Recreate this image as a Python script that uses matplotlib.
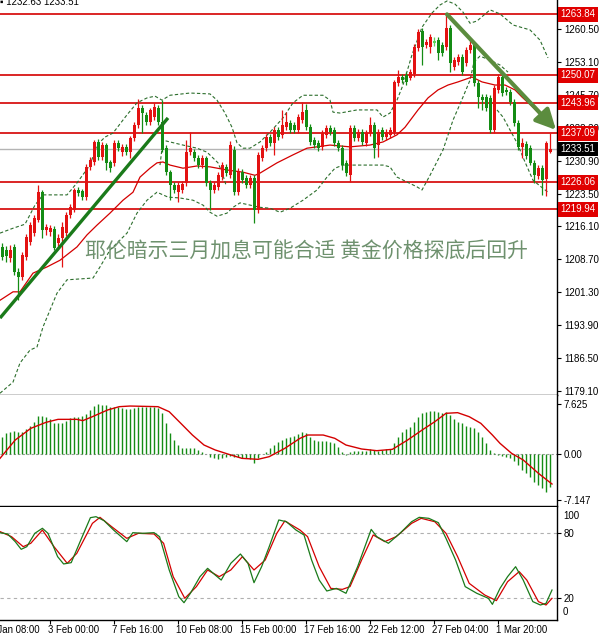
import matplotlib
matplotlib.use('Agg')
import matplotlib.pyplot as plt
import matplotlib.transforms as mtransforms

plt.rcParams['font.family'] = ['Liberation Sans', 'DejaVu Sans']

# ---------------- data (GOLD H4) ----------------
opens = [1211.5, 1210.8, 1209.0, 1211.5, 1205.9, 1204.7, 1209.2, 1212.6, 1214.6, 1217.5,
         1223.8, 1215.3, 1214.8, 1215.5, 1212.4, 1213.5, 1214.6, 1218.7, 1219.8, 1224.3,
         1224.1, 1222.7, 1229.5, 1230.6, 1235.1, 1231.7, 1234.4, 1230.6, 1230.4, 1234.9,
         1232.8, 1234.0, 1232.8, 1236.0, 1238.9, 1242.7, 1241.2, 1239.6, 1240.7, 1242.7,
         1239.6, 1233.7, 1228.3, 1225.4, 1223.8, 1224.3, 1225.9, 1232.8, 1232.8, 1231.5,
         1229.9, 1231.5, 1225.9, 1224.3, 1225.0, 1227.2, 1229.5, 1227.6, 1233.3, 1223.8,
         1228.3, 1227.0, 1225.4, 1227.0, 1219.8, 1231.5, 1233.7, 1236.2, 1234.9, 1237.8,
         1236.7, 1238.4, 1239.4, 1238.9, 1237.8, 1240.0, 1242.3, 1238.4, 1235.5, 1234.9,
         1234.0, 1236.7, 1238.2, 1237.8, 1234.9, 1233.7, 1230.4, 1227.6, 1238.2, 1236.0,
         1237.3, 1234.9, 1237.1, 1238.9, 1234.4, 1237.8, 1236.2, 1236.7, 1237.3, 1248.4,
         1249.7, 1250.2, 1249.5, 1250.4, 1256.2, 1260.0, 1256.9, 1256.5, 1257.8, 1258.0,
         1256.9, 1256.5, 1260.7, 1252.0, 1253.1, 1254.2, 1252.9, 1255.8, 1256.9, 1248.4,
         1245.2, 1245.2, 1245.0, 1237.8, 1246.8, 1249.7, 1246.8, 1246.3, 1244.1, 1239.4,
         1234.0, 1234.6, 1233.7, 1230.4, 1227.4, 1229.2, 1226.8, 1232.9]
highs = [1212.4, 1211.7, 1211.9, 1212.1, 1206.8, 1210.4, 1214.4, 1217.1, 1218.7, 1225.4,
         1224.3, 1216.6, 1216.4, 1216.2, 1214.4, 1217.1, 1219.3, 1221.1, 1224.7, 1225.0,
         1224.5, 1230.1, 1231.7, 1235.5, 1235.8, 1235.1, 1234.9, 1231.0, 1235.5, 1235.5,
         1234.6, 1234.6, 1236.4, 1239.6, 1244.8, 1243.4, 1241.8, 1242.7, 1243.9, 1243.4,
         1244.5, 1234.4, 1228.8, 1226.1, 1226.1, 1226.3, 1235.5, 1237.3, 1233.5, 1232.2,
         1232.2, 1231.9, 1226.5, 1226.1, 1228.3, 1230.6, 1230.1, 1235.3, 1234.2, 1229.2,
         1229.0, 1227.6, 1227.6, 1227.6, 1232.8, 1234.4, 1236.9, 1236.9, 1238.4, 1238.4,
         1242.3, 1241.8, 1240.0, 1239.6, 1241.4, 1244.1, 1243.6, 1239.1, 1236.2, 1235.5,
         1237.8, 1238.9, 1238.9, 1238.4, 1235.5, 1234.4, 1231.0, 1238.9, 1238.9, 1238.0,
         1238.0, 1237.8, 1240.7, 1239.6, 1238.0, 1238.4, 1238.0, 1238.4, 1249.0, 1251.3,
         1250.4, 1250.8, 1251.5, 1257.1, 1260.5, 1260.7, 1258.3, 1259.4, 1258.7, 1258.7,
         1257.6, 1263.84, 1261.4, 1254.2, 1254.9, 1254.9, 1256.5, 1258.5, 1257.6, 1249.0,
         1245.9, 1245.9, 1245.6, 1247.9, 1250.4, 1250.4, 1247.5, 1247.0, 1244.8, 1240.0,
         1236.0, 1235.3, 1234.4, 1231.0, 1229.9, 1229.9, 1235.3, 1237.1]
lows = [1208.5, 1208.1, 1208.1, 1205.2, 1199.5, 1204.1, 1208.5, 1211.9, 1213.9, 1217.1,
        1213.5, 1214.2, 1213.9, 1210.8, 1211.7, 1207.0, 1213.9, 1218.0, 1219.3, 1222.9,
        1222.0, 1222.0, 1228.8, 1229.9, 1231.0, 1231.0, 1228.8, 1228.3, 1229.7, 1233.1,
        1231.9, 1232.2, 1231.5, 1235.3, 1238.2, 1237.1, 1238.9, 1238.9, 1240.0, 1238.9,
        1232.8, 1227.6, 1222.0, 1223.6, 1221.6, 1223.6, 1225.2, 1232.2, 1230.8, 1229.2,
        1229.2, 1225.2, 1219.8, 1223.6, 1224.3, 1226.5, 1227.4, 1227.0, 1223.2, 1223.2,
        1225.9, 1224.7, 1224.7, 1216.9, 1219.1, 1230.8, 1233.1, 1234.2, 1232.2, 1235.5,
        1236.0, 1237.8, 1237.1, 1237.1, 1237.1, 1239.4, 1237.8, 1234.4, 1233.7, 1233.1,
        1233.3, 1236.0, 1236.7, 1234.2, 1233.1, 1228.8, 1227.4, 1226.1, 1235.3, 1235.3,
        1234.4, 1234.2, 1236.4, 1231.5, 1231.7, 1235.5, 1235.5, 1236.0, 1236.7, 1247.7,
        1248.4, 1247.9, 1249.0, 1249.7, 1255.6, 1252.4, 1256.2, 1255.1, 1256.7, 1253.5,
        1254.4, 1255.8, 1250.8, 1251.3, 1252.4, 1250.2, 1252.2, 1255.1, 1247.7, 1242.7,
        1242.3, 1242.1, 1237.1, 1237.1, 1246.1, 1245.4, 1245.6, 1243.4, 1238.7, 1233.3,
        1231.5, 1231.3, 1229.9, 1225.9, 1226.8, 1223.2, 1222.9, 1232.63]
closes = [1209.2, 1209.5, 1210.8, 1205.9, 1204.7, 1209.7, 1213.7, 1216.4, 1218.0, 1223.8,
          1215.3, 1216.0, 1215.7, 1211.2, 1213.5, 1216.0, 1218.7, 1220.4, 1224.3, 1223.6,
          1222.7, 1229.5, 1231.0, 1235.1, 1231.7, 1234.4, 1230.4, 1229.2, 1234.9, 1233.7,
          1234.0, 1232.8, 1236.0, 1238.9, 1242.7, 1241.6, 1239.6, 1242.3, 1242.9, 1239.6,
          1233.3, 1228.3, 1225.4, 1224.3, 1225.4, 1225.6, 1232.8, 1233.7, 1231.5, 1229.9,
          1231.5, 1225.9, 1224.3, 1225.4, 1227.6, 1229.9, 1228.1, 1234.4, 1223.8, 1228.3,
          1226.5, 1225.4, 1227.0, 1219.8, 1232.2, 1233.7, 1236.2, 1234.9, 1237.8, 1236.2,
          1238.9, 1239.6, 1237.8, 1237.8, 1240.7, 1241.8, 1238.4, 1235.1, 1234.4, 1233.7,
          1237.1, 1238.2, 1237.3, 1234.9, 1233.7, 1229.9, 1228.1, 1238.2, 1236.0, 1237.3,
          1235.1, 1237.1, 1238.9, 1233.7, 1237.3, 1236.2, 1237.3, 1237.8, 1248.6, 1249.7,
          1249.0, 1248.6, 1250.8, 1256.5, 1259.8, 1256.5, 1257.6, 1258.7, 1257.4, 1255.1,
          1255.1, 1260.7, 1252.9, 1253.5, 1254.2, 1250.8, 1255.8, 1256.9, 1248.4, 1245.2,
          1244.5, 1242.7, 1237.8, 1247.2, 1249.7, 1246.1, 1246.3, 1244.1, 1239.4, 1234.0,
          1234.9, 1232.0, 1230.4, 1227.6, 1229.2, 1226.5, 1234.9, 1233.51]
light_bars = [108]

levels = [1263.84, 1250.07, 1243.96, 1237.09, 1226.06, 1219.94]
last_price = 1233.51
price_ticks = [1260.50, 1253.10, 1245.70, 1238.30, 1230.90, 1223.50,
               1216.10, 1208.70, 1201.30, 1193.90, 1186.50, 1179.10]

ma_x = [-0.5, 2.75, 4.5, 7.75, 11.25, 14.5, 18.75, 21.25, 23.75, 27.0, 30.25, 32.75, 34.5,
        37.0, 38.75, 40.25, 42.0, 45.25, 48.75, 52.0, 56.25, 60.25, 63.25, 64.5, 68.75,
        72.75, 76.25, 78.75, 82.0, 87.0, 92.0, 95.25, 98.75, 100.75, 104.0, 106.5, 109.0,
        111.5, 114.0, 117.5, 120.0, 123.25, 125.75, 128.25, 130.0, 132.75, 137.0]
ma_y = [1199.5, 1201.4, 1201.4, 1205.6, 1207.0, 1208.5, 1211.5, 1214.2, 1216.4, 1219.1,
        1222.0, 1223.8, 1227.2, 1229.2, 1230.4, 1230.6, 1229.9, 1229.2, 1229.7, 1229.5,
        1228.8, 1228.3, 1227.6, 1228.1, 1230.4, 1232.2, 1233.7, 1234.0, 1234.4, 1234.0,
        1234.4, 1235.1, 1236.7, 1238.4, 1242.3, 1245.0, 1246.8, 1247.9, 1248.6, 1249.7,
        1248.6, 1247.9, 1247.9, 1246.8, 1245.2, 1242.9, 1238.9]

band_up_x = [-0.5, 2.75, 5.75, 8.25, 10.25, 16.25, 18.75, 22.0, 23.75, 25.75, 27.75, 31.25,
             33.75, 36.25, 38.25, 40.0, 42.0, 47.0, 52.0, 53.75, 55.75, 57.5, 58.75, 60.25,
             62.0, 64.5, 67.0, 70.25, 72.75, 75.25, 80.25, 82.0, 82.75, 84.5, 88.75, 93.75,
             95.25, 97.0, 98.75, 100.25, 102.5, 105.0, 107.5, 109.5, 111.25, 113.25, 115.25,
             117.0, 118.75, 122.0, 124.5, 127.75, 132.0, 134.5, 136.5]
band_up_y = [1214.6, 1215.7, 1216.6, 1220.9, 1223.2, 1223.2, 1225.9, 1229.9, 1234.4, 1236.2,
             1237.1, 1241.2, 1243.9, 1245.0, 1245.4, 1244.5, 1245.6, 1246.1, 1245.9, 1244.5,
             1241.6, 1238.4, 1234.9, 1233.7, 1233.7, 1235.1, 1237.3, 1240.5, 1243.9, 1245.6,
             1245.6, 1244.5, 1241.8, 1241.6, 1242.3, 1242.3, 1240.7, 1241.6, 1244.5, 1247.9,
             1254.7, 1260.9, 1264.1, 1265.9, 1266.8, 1266.1, 1264.3, 1261.8, 1262.3, 1264.8,
             1263.9, 1261.4, 1260.3, 1258.0, 1254.0]

band_low_x = [-0.5, 2.75, 4.5, 7.0, 8.75, 10.25, 12.0, 13.75, 16.25, 19.5, 22.75, 24.5, 27.0,
              31.25, 33.75, 36.25, 38.75, 41.5, 44.5, 47.75, 50.25, 52.0, 53.75, 56.25, 57.75,
              59.5, 62.0, 64.5, 67.0, 69.5, 72.0, 75.25, 78.75, 81.25, 83.25, 85.25, 95.25,
              97.0, 98.75, 101.25, 103.75, 105.0, 107.0, 110.25, 112.75, 115.25, 117.0,
              118.0, 119.5, 122.0, 124.5, 126.5]
band_low_y = [1178.6, 1181.1, 1185.4, 1188.3, 1189.0, 1193.5, 1197.3, 1201.1, 1204.1, 1204.3,
              1204.5, 1207.0, 1210.8, 1214.6, 1219.1, 1222.0, 1223.8, 1222.7, 1222.5, 1222.0,
              1220.9, 1219.3, 1218.4, 1219.1, 1220.4, 1221.4, 1220.9, 1220.4, 1220.2, 1219.3,
              1220.2, 1222.0, 1224.3, 1227.2, 1229.2, 1229.9, 1229.9, 1229.5, 1227.2, 1226.1,
              1225.0, 1224.3, 1227.6, 1233.3, 1240.0, 1245.2, 1249.0, 1253.1, 1254.4, 1253.5,
              1252.4, 1250.8]

band_mid_x = [39.5, 40.25, 42.0, 45.25, 48.75, 51.25, 52.75, 54.0, 55.0, 56.0]
band_mid_y = [1229.9, 1235.5, 1235.1, 1234.4, 1233.7, 1232.8, 1231.5, 1230.4, 1228.3, 1225.4]

band_tail_x = [123.75, 125.25, 127.0, 128.75, 130.75, 132.75, 134.5, 136.5]
band_tail_y = [1242.3, 1240.7, 1237.8, 1234.9, 1230.6, 1226.5, 1225.2, 1223.8]

macd_hist = [2.67, 3.18, 3.44, 3.59, 3.44, 3.33, 3.80, 4.31, 4.92, 5.85,
             5.85, 5.64, 5.33, 4.82, 4.72, 4.82, 5.13, 5.49, 5.74, 5.74,
             5.85, 6.15, 6.77, 7.38, 7.62, 7.60, 7.54, 7.28, 7.28, 7.28,
             7.03, 6.87, 6.87, 7.03, 7.28, 7.28, 7.18, 7.18, 7.18, 7.03,
             6.26, 4.72, 3.28, 2.15, 1.38, 0.87, 0.87, 0.92, 0.87, 0.62,
             0.36, 0.05, -0.41, -0.67, -0.82, -0.67, -0.51, -0.31, -0.41, -0.51,
             -0.56, -0.67, -0.77, -1.44, -0.67, 0.02, 0.36, 0.87, 1.38, 1.90,
             2.15, 2.51, 2.67, 2.77, 3.08, 3.33, 3.18, 2.67, 2.15, 2.05,
             2.05, 2.05, 1.90, 1.64, 1.13, 0.36, -0.15, 0.36, 0.46, 0.51,
             0.51, 0.51, 0.72, 0.62, 0.51, 0.62, 0.72, 0.72, 1.74, 2.67,
             3.44, 3.80, 4.21, 4.97, 5.74, 6.26, 6.46, 6.62, 6.67, 6.51,
             6.26, 6.51, 6.00, 5.33, 4.97, 4.72, 4.31, 4.21, 3.95, 3.44,
             2.67, 1.64, 0.62, 0.10, -0.15, -0.31, -0.41, -0.67, -1.03, -1.69,
             -2.46, -2.97, -3.59, -4.26, -4.77, -5.28, -5.80, -5.13]
signal_x = [-0.5, 3.3, 7.2, 11, 14, 18.7, 20.2, 22.6, 26.4, 29.3, 32, 39, 41.8, 44.7, 47.6,
            50.5, 53.3, 57.2, 60, 64, 66.8, 70.7, 74.5, 76.4, 80.3, 83.2, 86, 89.9, 93.7,
            97.6, 101.4, 105.3, 108.2, 111, 113.9, 116.8, 119.7, 122.6, 124.5, 127.4, 130.3,
            134.1, 137.5]
signal_y = [-0.67, 2.15, 3.95, 4.87, 5.33, 5.33, 5.13, 5.74, 6.77, 7.28, 7.38, 7.28, 6.51,
            4.72, 2.92, 1.38, 0.62, -0.15, -0.67, -0.82, -0.41, 0.87, 2.41, 2.92, 2.92, 2.41,
            1.38, 0.77, 0.51, 0.72, 2.15, 3.8, 4.97, 6.26, 6.36, 5.74, 4.72, 2.92, 1.64, 0.1,
            -0.92, -2.97, -4.62]

stoch_k_x = [-0.5, 1.4, 3.3, 4.8, 6.2, 8.2, 10.1, 11.5, 13.9, 15.4, 17.3, 19.7, 22.1, 23.5,
             25.5, 27.9, 29.8, 31.2, 32.7, 35.1, 38, 39.4, 41.8, 44.2, 45.5, 47.1, 49.5, 51.4,
             53.3, 54.8, 57.2, 59.6, 61.5, 63, 64.9, 66.8, 69.2, 71.1, 73.5, 75.5, 77.4, 79.3,
             81.2, 83.6, 86, 88.9, 92.3, 93.7, 96.6, 99.5, 102.4, 104.3, 106.7, 109.1, 111,
             113.4, 115.8, 118.7, 121.6, 122.6, 124.5, 126.4, 128.4, 130.3, 132.7, 134.6, 136,
             137.5]
stoch_k_y = [80, 78.8, 71.8, 64.8, 67.2, 79.4, 84, 79.4, 58.1, 51.4, 52.6, 73.3, 93.7, 94.6,
             91, 82.4, 76.3, 71.8, 80, 79.4, 80, 76.3, 45.9, 21.5, 16, 24.6, 39.8, 47.4, 41.3,
             36.7, 52, 60.5, 52, 34.3, 48.9, 67.2, 91.6, 90, 82.4, 77.9, 55, 36.7, 26.7, 29.1,
             24.6, 48.9, 83, 76.3, 70.3, 79.4, 90, 94, 93.1, 89.1, 74.8, 55, 30.7, 24.6, 20,
             14.5, 29.1, 39.8, 48.9, 36.7, 17, 13.9, 15.4, 27.6]
stoch_d_x = [-0.5, 2.4, 5.3, 7.2, 10.1, 13, 16.3, 18.7, 22.6, 24.5, 27.4, 31.2, 34.1, 38,
             40.4, 42.8, 45.7, 48.6, 51.4, 54.3, 57.2, 60.1, 63, 65.8, 68.7, 70.7, 74.5, 76.4,
             79.3, 82.2, 85.1, 87, 89.9, 92.8, 95.7, 98.5, 102.4, 104.8, 108.2, 111, 113.9,
             116.8, 120.7, 123.6, 126.4, 129.3, 131.2, 134.1, 136, 137.5]
stoch_d_y = [81, 76.3, 67.2, 70.3, 82.4, 67.2, 52, 61.1, 88.5, 94, 85.5, 74.8, 79.4, 78.8,
             70.3, 39.8, 20, 30.7, 45.9, 39.8, 45.9, 58.1, 45.9, 55, 79.4, 90.7, 82.4, 76.3,
             48.9, 29.1, 28.2, 30.7, 55, 77.9, 71.8, 76.3, 88.5, 93.1, 90, 79.4, 58.1, 33.7,
             23, 17.9, 35.2, 44.4, 36.7, 17, 13.9, 20]

time_label_bars = [-4, 12, 28, 44, 60, 76, 92, 108, 124]
time_labels = ['31 Jan 08:00', '3 Feb 00:00', '7 Feb 16:00', '10 Feb 08:00', '15 Feb 00:00',
               '17 Feb 16:00', '22 Feb 12:00', '27 Feb 04:00', '1 Mar 20:00']
macd_ticks = [7.625, 0.0, -7.147]
macd_tick_labels = ['7.625', '0.00', '-7.147']
stoch_levels = [80, 20]

trend_up_x = [-0.5, 41.5]
trend_up_y = [1195.5, 1240.5]
trend_down_start = (111.25, 1263.8)
trend_down_end = (138.5, 1237.8)

headline = '耶伦暗示三月加息可能合适 黄金价格探底后回升'
header = '\u25aa 1232.63 1233.51'

# ---------------- styling ----------------
RED = '#e31212'
GREEN = '#148c14'
LIGHT_GREEN = '#5cd65c'
LINE_RED = '#d40000'
BAND = '#2c6e2c'
FS = 7.0
FS_T = 6.9

W, H = 600, 640
fig = plt.figure(figsize=(W / 100, H / 100), dpi=100)
fig.patch.set_facecolor('white')


def rect(x0, y0, x1, y1):
    return [x0 / W, 1 - y1 / H, (x1 - x0) / W, (y1 - y0) / H]


ax1 = fig.add_axes(rect(0, 0, 557, 395))
ax2 = fig.add_axes(rect(0, 395, 557, 506), sharex=ax1)
ax3 = fig.add_axes(rect(0, 507, 557, 620), sharex=ax1)

for ax in (ax1, ax2, ax3):
    for s in ('left', 'top'):
        ax.spines[s].set_visible(False)
    for s in ('right', 'bottom'):
        ax.spines[s].set_color('black')
        ax.spines[s].set_linewidth(1.0)
    ax.yaxis.tick_right()
    ax.tick_params(axis='y', direction='out', length=3, width=0.8, pad=2,
                   labelsize=FS, colors='black')
    ax.tick_params(axis='x', direction='out', length=3, width=0.8, labelbottom=False)

ax1.set_xlim(-0.5, 138.75)
ax1.set_ylim(1178.20, 1267.02)
ax2.set_ylim(-8.0, 9.077)
ax3.set_ylim(0.2, 103.45)

n = len(closes)
xs = list(range(n))

# ---- main panel ----
for lv in levels:
    ax1.axhline(lv, color=LINE_RED, lw=1.2, zorder=1)
ax1.axhline(last_price, color='#b4b4b4', lw=1.0, zorder=1)

ax1.plot(band_up_x, band_up_y, color=BAND, lw=0.8, ls=(0, (3, 2)), zorder=2)
ax1.plot(band_low_x, band_low_y, color=BAND, lw=0.8, ls=(0, (3, 2)), zorder=2)
ax1.plot(band_mid_x, band_mid_y, color=BAND, lw=0.8, ls=(0, (3, 2)), zorder=2)
ax1.plot(band_tail_x, band_tail_y, color=BAND, lw=0.8, ls=(0, (3, 2)), zorder=2)
ax1.plot(ma_x, ma_y, color=LINE_RED, lw=0.9, zorder=2)

cols = []
for i in xs:
    if i in light_bars:
        cols.append(LIGHT_GREEN)
    elif closes[i] >= opens[i]:
        cols.append(RED)
    else:
        cols.append(GREEN)
ax1.vlines(xs, lows, highs, colors=cols, lw=0.9, zorder=3)
bottoms = [min(o, c) for o, c in zip(opens, closes)]
heights = [max(abs(c - o), 0.25) for o, c in zip(opens, closes)]
ax1.bar(xs, heights, bottom=bottoms, width=0.75, color=cols, linewidth=0, zorder=3)

ax1.plot(trend_up_x, trend_up_y, color='#1a7a1a', lw=2.4, solid_capstyle='butt', zorder=4)
ax1.annotate('', xy=trend_down_end, xytext=trend_down_start,
             arrowprops=dict(arrowstyle='-|>,head_length=1.0,head_width=0.5',
                             color='#5b8c3e', lw=3, mutation_scale=12,
                             shrinkA=0, shrinkB=0), zorder=4)

ax1.text(85 / 557, 1210.5, headline, transform=mtransforms.blended_transform_factory(
    ax1.transAxes, ax1.transData), family=['Noto Sans CJK SC', 'DejaVu Sans'],
    fontsize=15.0, color='#6e916e', ha='left', va='center', zorder=5)

ax1.set_yticks(price_ticks)
ax1.set_yticklabels(['%.2f' % v for v in price_ticks])

trans1 = mtransforms.offset_copy(
    mtransforms.blended_transform_factory(ax1.transAxes, ax1.transData),
    fig=fig, x=3.5, y=0, units='dots')
for lv in levels:
    ax1.text(1.0, lv, '%.2f' % lv, transform=trans1, ha='left', va='center',
             color='white', fontsize=FS, zorder=10, clip_on=False,
             bbox=dict(boxstyle='square,pad=0.25', fc='#e00000', ec='none'))
ax1.text(1.0, last_price, '%.2f' % last_price, transform=trans1, ha='left',
         va='center', color='white', fontsize=FS, zorder=10, clip_on=False,
         bbox=dict(boxstyle='square,pad=0.25', fc='black', ec='none'))

fig.text(0.0, 1 - 2 / H, header, fontsize=FS, ha='left', va='center', color='black')

# ---- MACD panel ----
ax2.axhline(0, color='#9a9a9a', lw=0.8, ls=(0, (2, 2)), zorder=1)
ax2.vlines(xs, 0, macd_hist, colors=GREEN, lw=1.0, zorder=2)
ax2.plot(signal_x, signal_y, color=LINE_RED, lw=1.0, zorder=3)
ax2.set_yticks(macd_ticks)
ax2.set_yticklabels(macd_tick_labels)

# ---- Stochastic panel ----
for lv in stoch_levels:
    ax3.axhline(lv, color='#b0b0b0', lw=0.8, ls=(0, (3, 3)), zorder=1)
ax3.plot(stoch_k_x, stoch_k_y, color='#1a7a1a', lw=0.9, zorder=3)
ax3.plot(stoch_d_x, stoch_d_y, color=LINE_RED, lw=0.9, zorder=2)
ax3.set_yticks(stoch_levels)
ax3.set_yticklabels([str(v) for v in stoch_levels])
bt3 = mtransforms.blended_transform_factory(ax3.transAxes, ax3.transData)
tr3 = mtransforms.offset_copy(bt3, fig=fig, x=6, y=0, units='dots')
ax3.text(1.0, 95.3, '100', transform=tr3, fontsize=FS, ha='left', va='center', clip_on=False)
ax3.text(1.0, 7.5, '0', transform=tr3, fontsize=FS, ha='left', va='center', clip_on=False)

ax3.set_xticks([b for b in time_label_bars if b >= 0])
xt = mtransforms.blended_transform_factory(ax3.transData, ax3.transAxes)
for b, lab in zip(time_label_bars, time_labels):
    ax3.text(b - 0.5, -0.088, lab, transform=xt, fontsize=FS_T, ha='left', va='center',
             clip_on=False)

fig.savefig('out.png', dpi=100, facecolor='white')
